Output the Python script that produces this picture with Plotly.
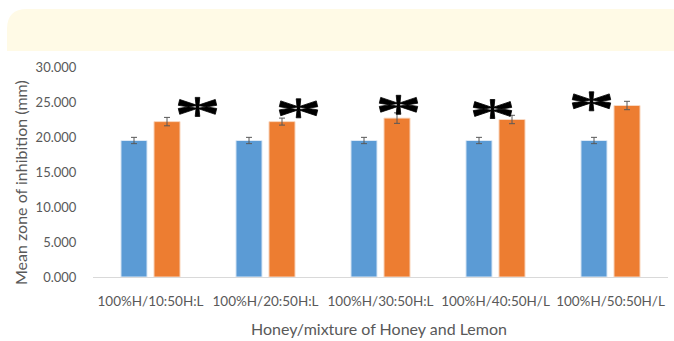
import plotly.graph_objects as go

# Treatments and mean inhibition zones (mm) with error margins
categories = ["100%H/10:50H:L", "100%H/20:50H:L", "100%H/30:50H:L",
              "100%H/40:50H/L", "100%H/50:50H/L"]
honey = [19.5, 19.5, 19.5, 19.5, 19.5]
honey_err = [0.45, 0.45, 0.45, 0.45, 0.45]
mixture = [22.2, 22.2, 22.7, 22.5, 24.5]
mixture_err = [0.6, 0.5, 0.75, 0.6, 0.6]

# Significance markers: height (data units) and horizontal offset (px)
star_y = [24.3, 24.1, 24.6, 24.0, 25.1]
star_dx = [47, 33, 18, -3, -19]

W, H = 674, 341
ML, MR, MT, MB = 93, 6, 67, 64
pw, ph = W - ML - MR, H - MT - MB


def px(x):
    return (x - ML) / pw


def py(y):
    return (H - MB - y) / ph


grey = "#595959"
font = "Lato"

fig = go.Figure()
fig.add_bar(x=categories, y=honey, name="Honey",
            marker=dict(color="#5B9BD5", line=dict(color="#DCE9F6", width=1)),
            error_y=dict(type="data", array=honey_err, color=grey,
                         thickness=1, width=3))
fig.add_bar(x=categories, y=mixture, name="Honey and Lemon",
            marker=dict(color="#ED7D31", line=dict(color="#F9D9C3", width=1)),
            error_y=dict(type="data", array=mixture_err, color=grey,
                         thickness=1, width=3))


def arm(cx, ex, ey, w0, w1):
    L = (ex * ex + ey * ey) ** 0.5
    nx, ny = -ey / L, ex / L
    pts = [(cx + nx * w0, ny * w0), (cx + ex + nx * w1, ey + ny * w1),
           (cx + ex - nx * w1, ey - ny * w1), (cx - nx * w0, -ny * w0)]
    return "M " + " L ".join(f"{x:.2f},{y:.2f}" for x, y in pts) + " Z"


def star_path(cx, hw=18.5, dy=4.5, vh=9.5):
    """Wide, heavy six-armed asterisk with petals flaring outward (pixels)."""
    parts = [arm(cx, 0, vh, 1.3, 2.3), arm(cx, 0, -vh, 1.3, 2.3)]
    for sx in (-1, 1):
        for sy in (-1, 1):
            parts.append(arm(cx, sx * hw, sy * dy, 1.4, 3.0))
    return " ".join(parts)


for c, y, dx in zip(categories, star_y, star_dx):
    fig.add_shape(type="path", path=star_path(dx), xref="x", yref="y",
                  xsizemode="pixel", ysizemode="pixel", xanchor=c, yanchor=y,
                  fillcolor="black", line=dict(color="black", width=0.8))

# Rounded cream header band
x0, x1 = px(7), px(690)
y0, y1 = py(51), py(9)
r = 20
rx, ry = r / pw, r / ph
path = (f"M {x0},{y0} L {x0},{y1 - ry} Q {x0},{y1} {x0 + rx},{y1} "
        f"L {x1 - rx},{y1} Q {x1},{y1} {x1},{y1 - ry} L {x1},{y0} Z")
fig.add_shape(type="path", path=path, xref="paper", yref="paper",
              fillcolor="#FFFAE6", line=dict(width=0), layer="below")

# Axis titles
fig.add_annotation(text="Honey/mixture of Honey and Lemon", xref="paper",
                   yref="paper", x=px(379), y=py(328), showarrow=False,
                   font=dict(size=16, color=grey, family=font),
                   xanchor="center", yanchor="middle")
fig.add_annotation(text="Mean zone of inhibition (mm)", xref="paper",
                   yref="paper", x=px(20), y=py(183), textangle=-90,
                   showarrow=False, font=dict(size=16, color=grey, family=font),
                   xanchor="center", yanchor="middle")

fig.update_layout(
    width=W, height=H,
    margin=dict(l=ML, r=MR, t=MT, b=MB),
    paper_bgcolor="white", plot_bgcolor="white",
    barmode="group", bargap=0.426, bargroupgap=0.21,
    showlegend=False,
    font=dict(family=font, color=grey, size=13),
    xaxis=dict(showline=True, linecolor="#D9D9D9", linewidth=1,
               showgrid=False, ticks="outside", ticklen=12,
               tickcolor="rgba(0,0,0,0)",
               tickfont=dict(size=13.5, color=grey)),
    yaxis=dict(range=[0, 30], dtick=5, tickformat=".3f", showgrid=False,
               zeroline=False, showline=False, ticks="outside",
               ticklen=13, tickcolor="rgba(0,0,0,0)",
               tickfont=dict(size=13, color=grey)),
)

fig.write_html("out.html")
